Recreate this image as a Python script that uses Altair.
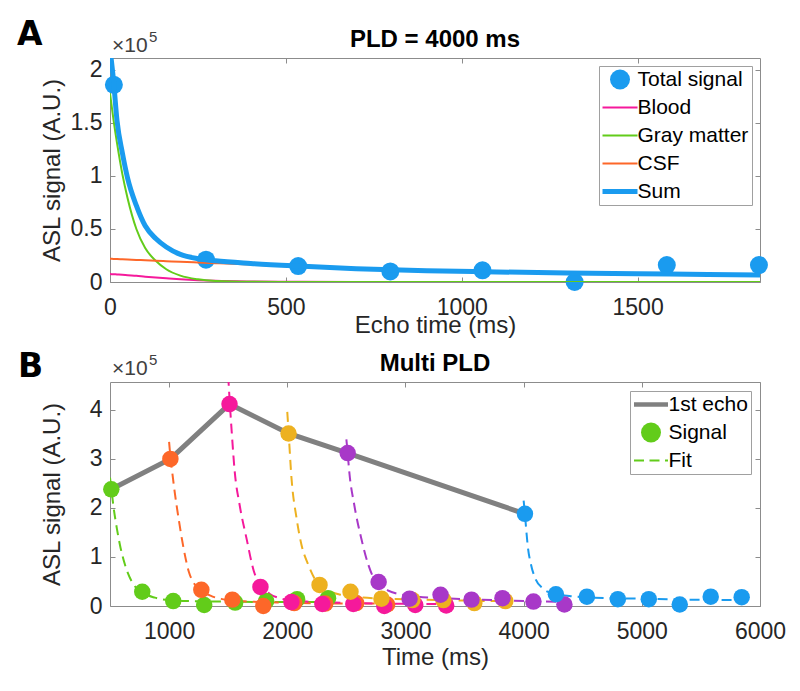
import altair as alt
import pandas as pd

FONT = "Liberation Sans"
BLUE = "#1a9bef"
PINK = "#f5199b"
GREEN = "#62cc1a"
ORANGE = "#fd6729"
YELLOW = "#edb120"
PURPLE = "#a838c8"
GRAY = "#808080"
TXT = "#262626"
AX = "#8c8c8c"

W, H = 650, 224

# ---------------- panel A data (values in units of 1e5) ----------------
TE = [11, 273, 535, 797, 1059, 1321, 1583, 1845]
TOTAL = [1.86, 0.21, 0.15, 0.10, 0.11, 0.00, 0.16, 0.16]

T_CURVE = [0, 10, 20, 35, 50, 75, 100, 130, 160, 200, 250, 300, 400, 535,
           700, 900, 1100, 1300, 1500, 1700, 1848]
BLOOD = [0.075, 0.073, 0.071, 0.068, 0.064, 0.058, 0.050, 0.042, 0.035, 0.026,
         0.017, 0.011, 0.005, 0.002, 0.0, 0.0, 0.0, 0.0, 0.0, 0.0, 0.0]
GM = [1.78, 1.53, 1.31, 1.02, 0.79, 0.50, 0.32, 0.20, 0.12, 0.06,
      0.025, 0.01, 0.002, 0.0, 0.0, 0.0, 0.0, 0.0, 0.0, 0.0, 0.0]
CSF = [0.22, 0.218, 0.216, 0.214, 0.212, 0.208, 0.205, 0.20, 0.196, 0.19,
       0.184, 0.178, 0.165, 0.145, 0.123, 0.103, 0.09, 0.08, 0.072, 0.065, 0.06]
SUM = [2.20, 1.90, 1.52, 1.22, 0.98, 0.72, 0.53, 0.41, 0.33, 0.26,
       0.22, 0.20, 0.175, 0.15, 0.125, 0.105, 0.095, 0.085, 0.078, 0.07, 0.065]

SERIES_A = ["Total signal", "Blood", "Gray matter", "CSF", "Sum"]
COLORS_A = [BLUE, PINK, GREEN, ORANGE, BLUE]

# ---------------- panel B data ----------------
PLDS = [500, 1000, 1500, 2000, 2500, 4000]
PLD_COLORS = [GREEN, ORANGE, PINK, YELLOW, PURPLE, BLUE]
FIRST_ECHO = [2.38, 3.00, 4.12, 3.52, 3.12, 1.88]
SIGNALS = [
    [2.38, 0.29, 0.10, 0.02, 0.07, 0.10, 0.14, 0.16],
    [3.00, 0.33, 0.13, 0.00, 0.06, 0.05, 0.06, 0.03],
    [4.12, 0.39, 0.08, 0.04, 0.04, 0.00, 0.02, 0.01],
    [3.52, 0.43, 0.29, 0.15, 0.12, 0.12, 0.06, 0.10],
    [3.12, 0.49, 0.15, 0.23, 0.13, 0.16, 0.09, 0.03],
    [1.88, 0.24, 0.19, 0.14, 0.14, 0.03, 0.19, 0.18],
]
FIT_T = [
    [500, 511, 530, 559, 590, 627, 686, 773, 880, 1000, 1200, 1500, 1800, 2100, 2345],
    [1000, 1011, 1023, 1049, 1082, 1124, 1167, 1217, 1273, 1350, 1450, 1600, 1800, 2100, 2500, 2845],
    [1500, 1511, 1530, 1555, 1597, 1656, 1716, 1773, 1850, 1950, 2100, 2400, 2800, 3345],
    [2000, 2011, 2036, 2078, 2120, 2178, 2247, 2273, 2350, 2450, 2600, 2800, 3100, 3500, 3845],
    [2500, 2511, 2525, 2567, 2627, 2686, 2736, 2773, 2850, 2950, 3100, 3300, 3600, 3900, 4345],
    [4000, 4011, 4017, 4036, 4061, 4103, 4162, 4255, 4400, 4600, 5000, 5400, 5845],
]
FIT_V = [
    [2.62, 2.40, 2.02, 1.57, 1.18, 0.84, 0.49, 0.28, 0.17, 0.12, 0.10, 0.09, 0.08, 0.08, 0.08],
    [3.35, 3.05, 2.80, 2.30, 1.76, 1.16, 0.70, 0.44, 0.32, 0.21, 0.14, 0.10, 0.08, 0.06, 0.05, 0.05],
    [4.70, 4.25, 3.55, 2.75, 2.06, 1.37, 0.72, 0.42, 0.25, 0.15, 0.10, 0.07, 0.05, 0.04],
    [3.96, 3.55, 2.60, 1.80, 1.25, 0.84, 0.50, 0.43, 0.31, 0.23, 0.18, 0.15, 0.13, 0.11, 0.10],
    [3.40, 3.12, 2.73, 2.06, 1.37, 0.84, 0.55, 0.45, 0.32, 0.24, 0.19, 0.16, 0.13, 0.11, 0.08],
    [2.15, 1.88, 1.70, 1.20, 0.86, 0.54, 0.36, 0.25, 0.20, 0.17, 0.15, 0.13, 0.12],
]
LEGEND_B = ["1st echo", "Signal", "Fit"]

# legend glyphs (custom symbol paths, unit = half of sqrt(symbolSize))
THIN = "M-1.75,-0.1H1.75V0.1H-1.75Z"
THICK = "M-1.75,-0.25H1.75V0.25H-1.75Z"
ECHO_G = "M-1.7,-0.22H1.7V0.22H-1.7Z"
DASH_G = "M-1.7,-0.1H-0.7V0.1H-1.7Z M-0.15,-0.1H0.85V0.1H-0.15Z M1.4,-0.1H1.7V0.1H1.4Z"
SHAPES_A = ["circle", THIN, THIN, THIN, THICK]
SHAPES_B = [ECHO_G, "circle", DASH_G]
COLORS_B = [GRAY, GREEN, GREEN]

# ---------------- tables ----------------
df_pts_a = pd.DataFrame({"t": TE, "v": TOTAL})


def curve(vals):
    return pd.DataFrame({"t": T_CURVE, "v": vals})


df_echo = pd.DataFrame({"t": [p + TE[0] for p in PLDS], "v": FIRST_ECHO})
sig_rows, fit_rows = [], []
for p, sig, ft, fv in zip(PLDS, SIGNALS, FIT_T, FIT_V):
    for te, v in zip(TE, sig):
        sig_rows.append({"t": p + te, "v": v, "pld": str(p)})
    for t, v in zip(ft, fv):
        fit_rows.append({"t": t, "v": v, "pld": str(p)})
df_sig = pd.DataFrame(sig_rows)
df_fit = pd.DataFrame(fit_rows)


# ---------------- helpers ----------------
def label_x(values, title, title_y):
    return alt.Axis(orient="bottom", values=values, title=title, ticks=False, domain=False,
                    labelPadding=32, labelBaseline="alphabetic", titleY=title_y,
                    titleBaseline="alphabetic", format="d")


def label_y(values, fmt):
    return alt.Axis(orient="left", values=values, title="ASL signal (A.U.)", ticks=False,
                    domain=False, labelPadding=8, titleX=-51, titleBaseline="alphabetic",
                    format=fmt)


def tick_axis(orient, offset, values):
    return alt.Axis(orient=orient, offset=offset, values=values, labels=False, title=None,
                    ticks=True, tickSize=5, domain=False)


def text_layer(txt, x, y, size, weight="normal", font=FONT, color=TXT, align="left"):
    return alt.Chart(pd.DataFrame({"label": [txt]})).mark_text(
        align=align, baseline="alphabetic", fontSize=size, fontWeight=weight,
        font=font, color=color).encode(x=alt.value(x), y=alt.value(y), text="label:N")


def make_legend(offset):
    return alt.Legend(title=None, orient="top-right", offset=offset, padding=3,
                      fillColor="white", strokeColor="#a0a0a0", cornerRadius=0,
                      labelFont=FONT, labelFontSize=21, labelColor="#000000",
                      symbolSize=400, symbolOffset=7.5, labelOffset=7, rowPadding=6,
                      symbolStrokeWidth=0, symbolOpacity=1)


def legend_layer(items, colors, shapes, offset):
    leg = make_legend(offset)
    return alt.Chart(pd.DataFrame({"item": items})).mark_point(filled=True, opacity=0).encode(
        x=alt.value(0), y=alt.value(0),
        color=alt.Color("item:N", scale=alt.Scale(domain=items, range=colors), legend=leg),
        shape=alt.Shape("item:N", scale=alt.Scale(domain=items, range=shapes), legend=leg),
    )


# ---------------- panel A ----------------
xa = alt.Scale(domain=[0, 1848], nice=False, zero=False)
ya = alt.Scale(domain=[0, 2.113], nice=False, zero=False)
XT_A = [0, 500, 1000, 1500]
YT_A = [0, 0.5, 1, 1.5, 2]

pts_a = alt.Chart(df_pts_a).mark_circle(size=324, opacity=1, color=BLUE).encode(
    x=alt.X("t:Q", scale=xa, axis=label_x(XT_A, "Echo time (ms)", 50)),
    y=alt.Y("v:Q", scale=ya, axis=label_y(YT_A, "~g")),
)


def line_a(vals, color, width, xaxis, yaxis):
    return alt.Chart(curve(vals)).mark_line(color=color, strokeWidth=width, clip=True,
                                            interpolate="monotone").encode(
        x=alt.X("t:Q", scale=xa, axis=xaxis),
        y=alt.Y("v:Q", scale=ya, axis=yaxis),
    )


blood = line_a(BLOOD, PINK, 2, tick_axis("top", -H, XT_A), tick_axis("right", -W, YT_A))
gm = line_a(GM, GREEN, 2, tick_axis("bottom", -H, XT_A), tick_axis("left", -W, YT_A))
csf = line_a(CSF, ORANGE, 2, None, None)
sm = line_a(SUM, BLUE, 5, None, None)

panel_a = alt.layer(
    pts_a, blood, gm, csf, sm,
    legend_layer(SERIES_A, COLORS_A, SHAPES_A, 8),
    text_layer("A", -93, -13, 33, "bold", "DejaVu Sans", "#000000"),
    text_layer("×10", 2, -6, 21, color="#404040"),
    text_layer("5", 39, -16, 15, color="#404040"),
    text_layer("PLD = 4000 ms", W / 2, -11, 24, "bold", FONT, "#000000", "center"),
).resolve_axis(x="independent", y="independent").properties(width=W, height=H)

# ---------------- panel B ----------------
xb = alt.Scale(domain=[500, 6000], nice=False, zero=False)
yb = alt.Scale(domain=[0, 4.57], nice=False, zero=False)
cb = alt.Scale(domain=[str(p) for p in PLDS], range=PLD_COLORS)
XT_B = [1000, 2000, 3000, 4000, 5000, 6000]
YT_B = [0, 1, 2, 3, 4]

echo = alt.Chart(df_echo).mark_line(color=GRAY, strokeWidth=5).encode(
    x=alt.X("t:Q", scale=xb, axis=label_x(XT_B, "Time (ms)", 58)),
    y=alt.Y("v:Q", scale=yb, axis=label_y(YT_B, "d")),
)
fits = alt.Chart(df_fit).mark_line(strokeWidth=2, strokeDash=[10, 6], clip=True,
                                   interpolate="monotone").encode(
    x=alt.X("t:Q", scale=xb, axis=tick_axis("top", -H, XT_B)),
    y=alt.Y("v:Q", scale=yb, axis=tick_axis("right", -W, YT_B)),
    stroke=alt.Stroke("pld:N", scale=cb, legend=None),
)
pts_b = alt.Chart(df_sig).mark_circle(size=272, opacity=1).encode(
    x=alt.X("t:Q", scale=xb, axis=tick_axis("bottom", -H, XT_B)),
    y=alt.Y("v:Q", scale=yb, axis=tick_axis("left", -W, YT_B)),
    fill=alt.Fill("pld:N", scale=cb, legend=None),
)

panel_b = alt.layer(
    echo, fits, pts_b,
    legend_layer(LEGEND_B, COLORS_B, SHAPES_B, 9),
    text_layer("B", -92, -5, 33, "bold", "DejaVu Sans", "#000000"),
    text_layer("×10", 2, -7, 21, color="#404040"),
    text_layer("5", 39, -17, 15, color="#404040"),
    text_layer("Multi PLD", W / 2, -11, 24, "bold", FONT, "#000000", "center"),
).resolve_axis(x="independent", y="independent").properties(width=W, height=H)

chart = alt.vconcat(panel_a, panel_b, spacing=100, bounds="flush").resolve_scale(
    color="independent", shape="independent", fill="independent", stroke="independent",
    x="independent", y="independent"
).resolve_legend(color="independent", shape="independent").properties(
    padding={"left": 8, "top": 10, "right": 5, "bottom": 5},
    background="white",
).configure_view(stroke=AX, strokeWidth=1).configure_axis(
    labelFont=FONT, labelFontSize=23, labelColor=TXT, titleFont=FONT, titleFontSize=24,
    titleFontWeight="normal", titleColor=TXT, tickColor=AX, tickWidth=1, grid=False,
    labelFlush=False, labelOverlap=False,
).configure_legend(labelFont=FONT, labelFontSize=21)

chart.save("out.html", embed_options={"renderer": "svg", "actions": False})
